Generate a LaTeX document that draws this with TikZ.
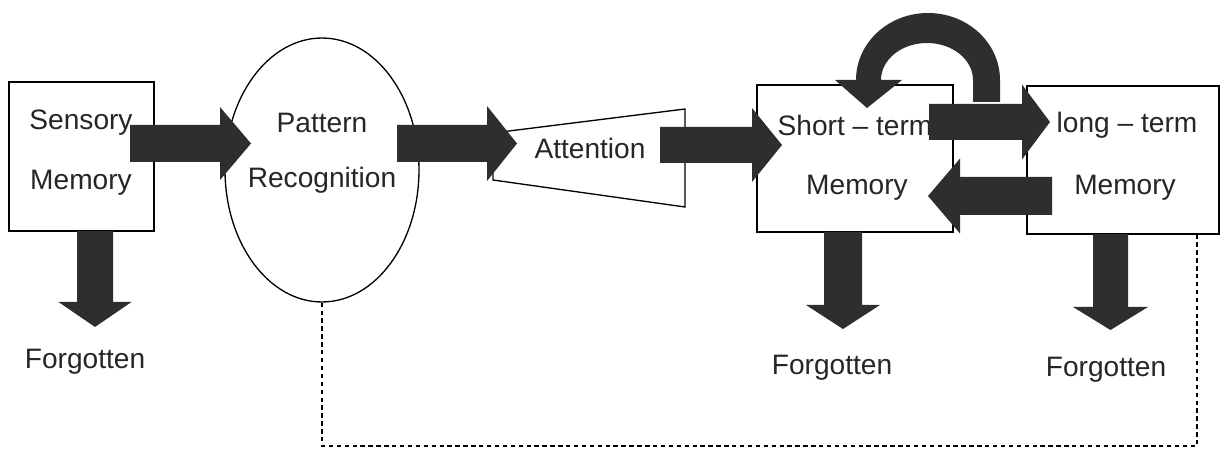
\documentclass[tikz,border=0pt]{standalone}
\usepackage{fontspec}
\setmainfont{Liberation Sans}
\usetikzlibrary{shapes.geometric}
\tikzset{
  box/.style={draw, line width=0.75pt, fill=white, inner sep=0pt},
  oval/.style={ellipse, draw, line width=0.75pt, fill=white, inner sep=0pt},
  lbl/.style={font=\fontsize{16}{19}\selectfont, text=black!85, inner sep=0pt},
  blockfill/.style={fill=black!82},
  dashlink/.style={line width=0.75pt, dash pattern=on 2.5pt off 2pt}
}
% horizontal block arrow: tail x, tip x, centre y, shaft half width, head half width, signed head length
\newcommand\myhbarrow[6]{%
  \fill[blockfill] (#1,{#3-#4}) -- ({#2-#6},{#3-#4}) -- ({#2-#6},{#3-#5}) -- (#2,#3)
    -- ({#2-#6},{#3+#5}) -- ({#2-#6},{#3+#4}) -- (#1,{#3+#4}) -- cycle;}
% vertical (downward) block arrow: centre x, tail y, tip y, shaft half width, head half width, head length
\newcommand\myvbarrow[6]{%
  \fill[blockfill] ({#1-#4},#2) -- ({#1-#4},{#3+#6}) -- ({#1-#5},{#3+#6}) -- (#1,#3)
    -- ({#1+#5},{#3+#6}) -- ({#1+#4},{#3+#6}) -- ({#1+#4},#2) -- cycle;}
\begin{document}
\begin{tikzpicture}[x=0.02cm, y=0.02cm]
\useasboundingbox (0,0) rectangle (1228,450);

% shapes
\node[box, minimum width=2.9cm, minimum height=2.98cm] (sm) at (81.5,293.5) {};
\node[oval, minimum width=3.88cm, minimum height=5.28cm] (pr) at (322,280) {};
\draw[line width=0.75pt, fill=white] (493,317) coordinate (at1) -- (685,341) -- (685,243) -- (493,270) -- cycle;
\coordinate (att) at (590,302);
\node[box, minimum width=3.92cm, minimum height=2.94cm] (st) at (855,291.5) {};
\node[box, minimum width=3.84cm, minimum height=2.96cm] (lt) at (1123,290) {};

% texts
\node[lbl] (t1) at (81,327) {Sensory};
\node[lbl] (t2) at (81,267) {Memory};
\node[lbl] (t3) at (322,327) {Pattern};
\node[lbl] (t4) at (322,270) {Recognition};
\node[lbl] (t5) at (att) {Attention};
\node[lbl] (t6) at (855,325) {Short – term};
\node[lbl] (t7) at (857,262) {Memory};
\node[lbl] (t8) at (1127,325) {long – term};
\node[lbl] (t9) at (1125,262) {Memory};
\node[lbl] (f1) at (85,88) {Forgotten};
\node[lbl] (f2) at (832,82) {Forgotten};
\node[lbl] (f3) at (1106,80) {Forgotten};

% dashed feedback line
\coordinate (dl) at (322,4);
\coordinate (dr) at (1197,4);
\coordinate (ltb) at (1197,216);
\draw[dashlink] (pr.south) -- (dl) -- (dr) -- (ltb);

% curved rehearsal arrow
\fill[blockfill] (1000,348) -- (1000,370) arc[start angle=0, end angle=180, x radius=72, y radius=67]
  -- (835,370) -- (867,342) -- (902,370) -- (881,370)
  arc[start angle=180, end angle=0, x radius=46, y radius=37] -- (973,348) -- cycle;

% block arrows
\myhbarrow{130}{251}{306.5}{18.5}{36.5}{31}
\myhbarrow{397}{517}{306.5}{18.5}{37.5}{30}
\myhbarrow{660}{782}{305}{18}{37}{30}
\myhbarrow{929}{1050}{328}{18}{37.5}{28}
\myhbarrow{1052}{928}{254}{19}{37.5}{-32}
\myvbarrow{95}{219}{123}{18}{36.5}{25}
\myvbarrow{843}{218}{121}{19}{37}{24}
\myvbarrow{1110.5}{216}{120}{17.5}{37.5}{23}
\end{tikzpicture}
\end{document}
